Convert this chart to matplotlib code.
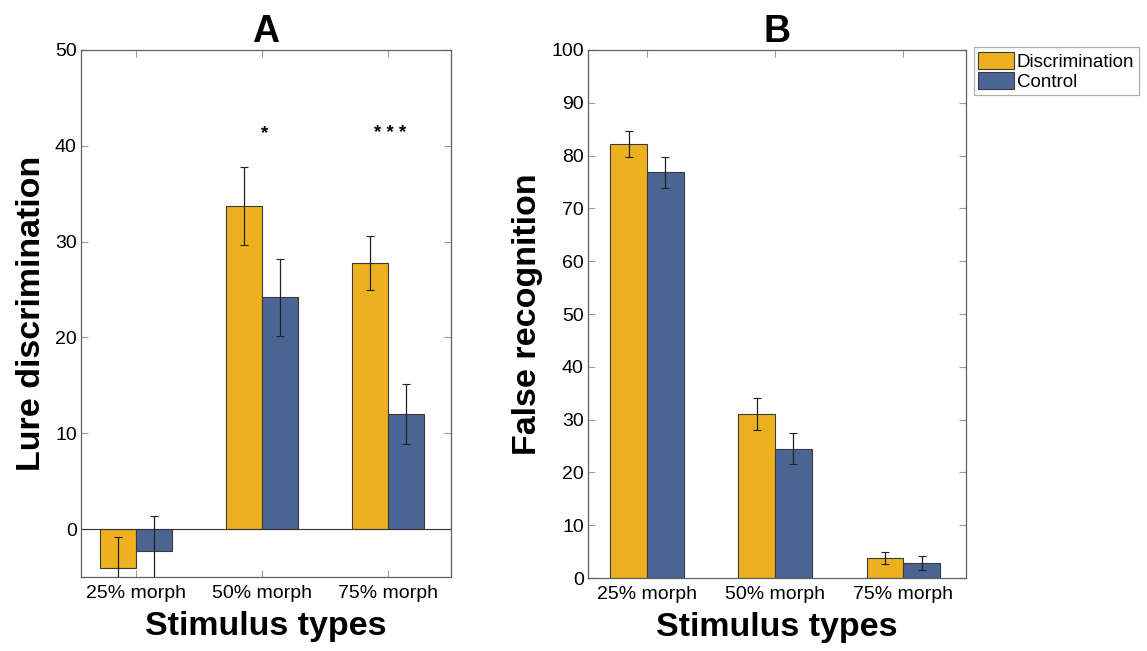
import matplotlib
matplotlib.use("Agg")
import matplotlib.pyplot as plt
import numpy as np

plt.rcParams['font.family'] = ['Liberation Sans', 'DejaVu Sans']

categories = ['25% morph', '50% morph', '75% morph']
series = ['Discrimination', 'Control']

# panel A: lure discrimination
lure_disc = [-4.1, 33.7, 27.8]
lure_disc_err = [3.3, 4.1, 2.8]
lure_ctrl = [-2.3, 24.2, 12.0]
lure_ctrl_err = [3.7, 4.0, 3.1]
sig_marks = ['', '*', '* * *']

# panel B: false recognition
false_disc = [82.2, 31.0, 3.8]
false_disc_err = [2.4, 3.0, 1.1]
false_ctrl = [76.8, 24.5, 2.9]
false_ctrl_err = [3.0, 3.0, 1.3]

yellow = '#EDB120'
blue = '#4A6593'
edge = '#3a3a3a'
box_col = '#606060'
tick_col = '#9a9a9a'

fig = plt.figure(figsize=(11.47, 6.51), dpi=100)
axA = fig.add_axes([0.0706, 0.1137, 0.3226, 0.8095])
axB = fig.add_axes([0.5126, 0.1121, 0.3296, 0.8111])

x = np.arange(1, 4)
w = 0.286


def draw_panel(ax, d, de, c, ce, ylim, yticks, ylabel, title, xlim):
    b1 = ax.bar(x - w / 2, d, w, color=yellow, edgecolor=edge, linewidth=0.8,
                label=series[0], zorder=2)
    b2 = ax.bar(x + w / 2, c, w, color=blue, edgecolor=edge, linewidth=0.8,
                label=series[1], zorder=2)
    ax.errorbar(x - w / 2, d, yerr=de, fmt='none', ecolor='#222222',
                elinewidth=0.9, capsize=3, capthick=0.8, zorder=3)
    ax.errorbar(x + w / 2, c, yerr=ce, fmt='none', ecolor='#222222',
                elinewidth=0.9, capsize=3, capthick=0.8, zorder=3)
    ax.set_xlim(*xlim)
    ax.set_ylim(*ylim)
    ax.set_yticks(yticks)
    ax.set_xticks(x)
    ax.set_xticklabels(categories)
    ax.tick_params(direction='in', length=5, color=tick_col, labelsize=14,
                   top=True, right=True, pad=3)
    ax.tick_params(axis='x', pad=6)
    for s in ax.spines.values():
        s.set_color(box_col)
        s.set_linewidth(0.9)
    ax.set_ylabel(ylabel, fontsize=24.5, fontweight='bold', labelpad=6)
    ax.set_xlabel('Stimulus types', fontsize=24.5, fontweight='bold', labelpad=6)
    ax.set_title(title, fontsize=27, fontweight='bold', pad=6)
    return b1, b2


draw_panel(axA, lure_disc, lure_disc_err, lure_ctrl, lure_ctrl_err,
           (-5, 50), np.arange(0, 51, 10), 'Lure discrimination', 'A', (0.56, 3.5))
axA.axhline(0, color='#333333', linewidth=0.8, zorder=2.5)
for xi, m in zip(x, sig_marks):
    if m:
        axA.text(xi + 0.02, 41.3, m, ha='center', va='center', fontsize=13.5,
                 fontweight='bold')

b1, b2 = draw_panel(axB, false_disc, false_disc_err, false_ctrl, false_ctrl_err,
                    (0, 100), np.arange(0, 101, 10), 'False recognition', 'B',
                    (0.54, 3.49))

leg = axB.legend(handles=[b1, b2], loc='upper left', bbox_to_anchor=(1.02, 1.005),
                 fontsize=13.5, frameon=True, fancybox=False, handlelength=1.9,
                 handleheight=1.0, handletextpad=0.15, borderpad=0.25,
                 labelspacing=0.05, borderaxespad=0)
leg.get_frame().set_edgecolor(tick_col)
leg.get_frame().set_linewidth(0.9)

fig.savefig('out.png', dpi=100)
